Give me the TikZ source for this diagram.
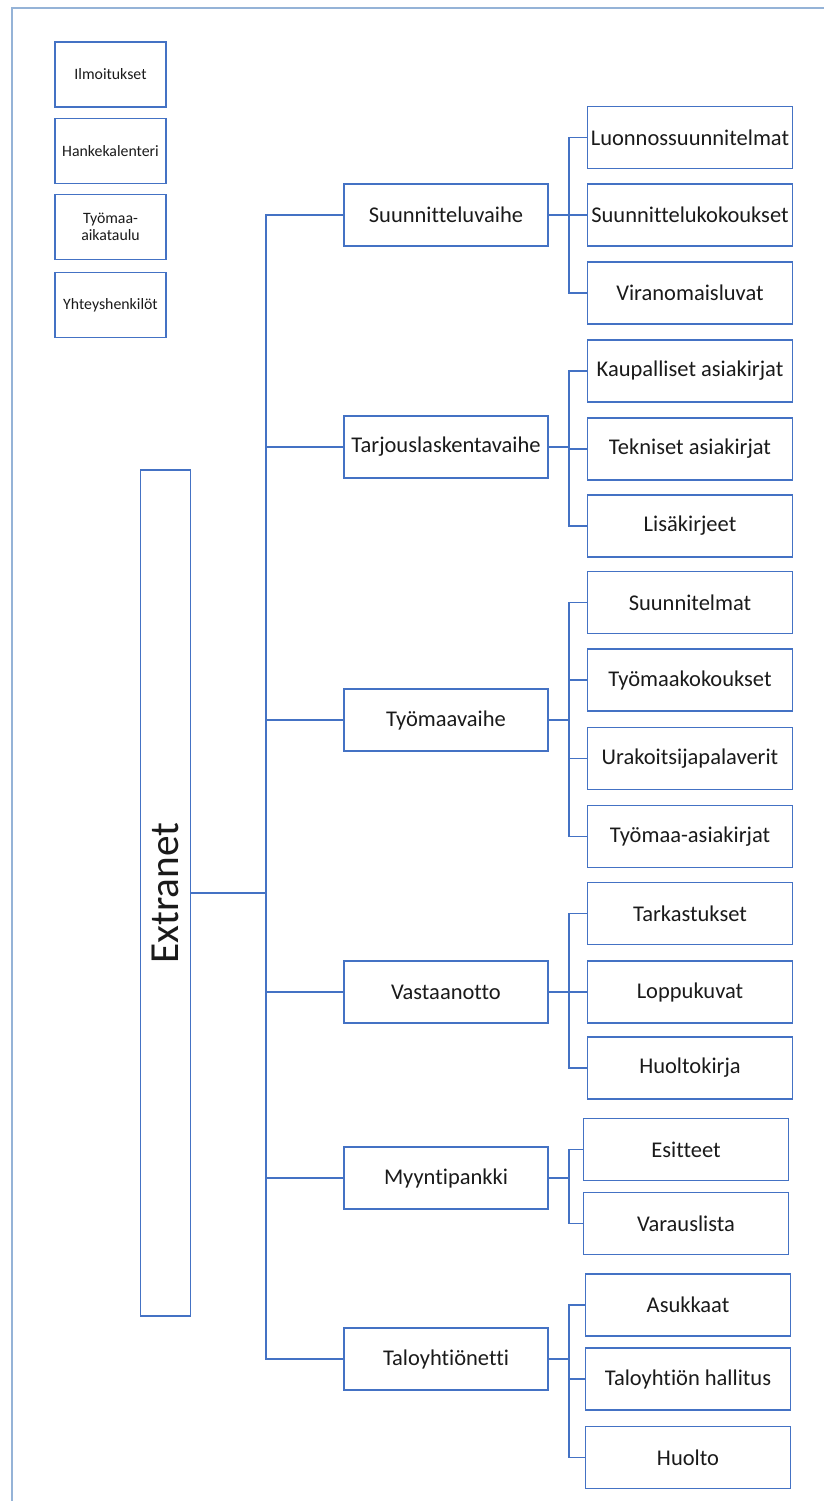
\documentclass[tikz,border=0pt]{standalone}
\usepackage{fontspec}
\setmainfont{Carlito}[Ligatures={NoCommon}]
\definecolor{boxblue}{HTML}{4472C4}
\definecolor{frameblue}{HTML}{95B3D7}
\definecolor{textgray}{HTML}{1A1A1A}

\begin{document}
\begin{tikzpicture}[x=0.02cm, y=-0.02cm]
        \tikzstyle{every node}=[rectangle, draw=boxblue, line width=1.1pt, text=textgray, inner sep=1pt, font=\fontsize{12.8}{15}\selectfont]
        \tikzstyle{pieni}=[minimum width=2.22cm, minimum height=1.3cm, align=center, font=\fontsize{9}{9.5}\selectfont]
        \tikzstyle{vaihe}=[minimum width=4.08cm, minimum height=1.24cm]
        \tikzstyle{lehti}=[minimum width=4.1cm, minimum height=1.24cm]
        \tikzstyle{edge}=[boxblue, line width=1pt]
        \tikzstyle{kehys}=[frameblue, line width=1.2pt]

        \useasboundingbox (0,0) rectangle (824,1501);
        \draw[kehys] (12,1501) -- (12,8) -- (824,8);

        % pikalinkit
        \node[pieni] (ilmo) at (110.5,74.5) {Ilmoitukset};
        \node[pieni] (kale) at (110.5,151) {Hankekalenteri};
        \node[pieni] (aika) at (110.5,227) {Työmaa-\\aikataulu};
        \node[pieni] (yhte) at (110.5,305) {Yhteyshenkilöt};

        \node[rotate=90, minimum width=16.92cm, minimum height=1cm, font=\fontsize{23.5}{27}\selectfont] (ext) at (165.5,893) {Extranet};

        % vaiheet
        \node[vaihe] (suun) at (446,215) {Suunnitteluvaihe};
        \node[vaihe] (tarj) at (446,447) {Tarjouslaskentavaihe};
        \node[vaihe] (tyom) at (446,720) {Työmaavaihe};
        \node[vaihe] (vast) at (446,992) {Vastaanotto};
        \node[vaihe] (myyn) at (446,1178) {Myyntipankki};
        \node[vaihe] (talo) at (446,1359) {Taloyhtiönetti};

        % kansiot
        \node[lehti] (luon) at (690,137.5) {Luonnossuunnitelmat};
        \node[lehti] (suko) at (690,215) {Suunnittelukokoukset};
        \node[lehti] (vira) at (690,293) {Viranomaisluvat};
        \node[lehti] (kaup) at (690,371) {Kaupalliset asiakirjat};
        \node[lehti] (tekn) at (690,449) {Tekniset asiakirjat};
        \node[lehti] (lisa) at (690,526) {Lisäkirjeet};
        \node[lehti] (sunn) at (690,602.5) {Suunnitelmat};
        \node[lehti] (tyko) at (690,680) {Työmaakokoukset};
        \node[lehti] (urak) at (690,758.5) {Urakoitsijapalaverit};
        \node[lehti] (tyas) at (690,836.5) {Työmaa-asiakirjat};
        \node[lehti] (tark) at (690,913.5) {Tarkastukset};
        \node[lehti] (lopp) at (690,992) {Loppukuvat};
        \node[lehti] (huki) at (690,1068) {Huoltokirja};
        \node[lehti] (esit) at (686,1149.5) {Esitteet};
        \node[lehti] (vara) at (686,1223.5) {Varauslista};
        \node[lehti] (asuk) at (688,1305) {Asukkaat};
        \node[lehti] (hall) at (688,1379) {Taloyhtiön hallitus};
        \node[lehti] (huol) at (688,1457.5) {Huolto};

        \coordinate (runko) at (266,893);
        \draw[edge] (ext.south) -- (runko);
        \foreach \v in {suun,tarj,tyom,vast,myyn,talo}
            \draw[edge] (runko) |- (\v.west);

        \foreach \v/\l in {suun/luon,suun/suko,suun/vira,tarj/kaup,tarj/tekn,tarj/lisa,
                          tyom/sunn,tyom/tyko,tyom/urak,tyom/tyas,vast/tark,vast/lopp,vast/huki,
                          myyn/esit,myyn/vara,talo/asuk,talo/hall,talo/huol}
            \draw[edge] (\v.east) -- ++(20,0) |- (\l.west);
    \end{tikzpicture}
\end{document}
